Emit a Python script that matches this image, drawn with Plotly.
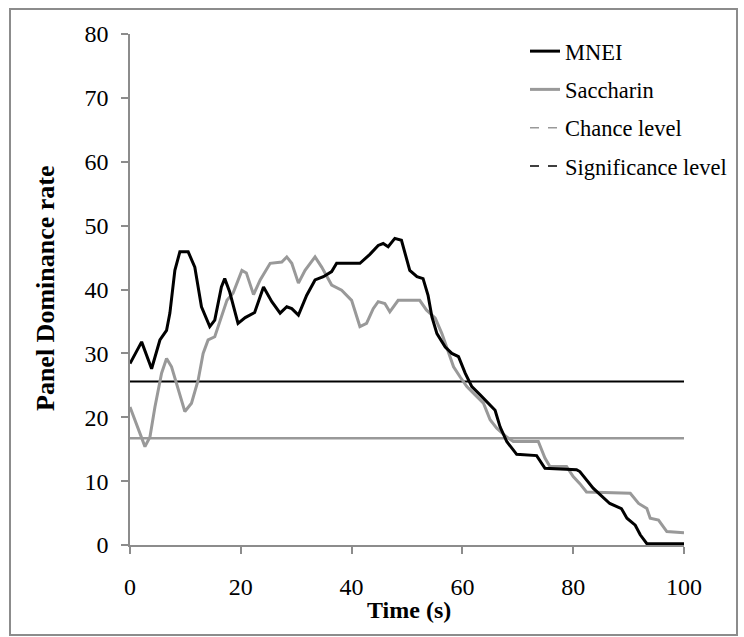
import plotly.graph_objects as go

# ---- data ----
mnei_t = [0, 2.1, 3.9, 5.4, 6.6, 7.2, 8.1, 9.0, 10.5, 11.7, 12.9, 14.4, 15.3, 16.5, 17.1, 18.0,
          19.5, 20.8, 22.5, 24.1, 25.6, 27.1, 28.3, 29.2, 30.4, 31.9, 33.4, 34.9, 36.4, 37.3,
          41.5, 43.3, 44.8, 45.7, 46.6, 47.8, 49.0, 49.9, 50.5, 51.8, 52.9, 53.8, 54.5, 55.4,
          56.9, 58.1, 59.3, 60.5, 61.7, 63.2, 64.7, 65.9, 66.8, 68.0, 69.8, 73.4, 74.9, 80.6,
          81.2, 83.6, 86.6, 88.7, 89.7, 91.2, 92.1, 93.3, 100]
mnei_v = [28.4, 31.8, 27.6, 32.1, 33.6, 36.3, 43.0, 45.9, 45.9, 43.5, 37.3, 34.2, 35.2, 40.4, 41.7, 39.6,
          34.7, 35.6, 36.4, 40.4, 38.1, 36.3, 37.3, 37.0, 36.0, 39.1, 41.5, 42.0, 42.8, 44.1,
          44.1, 45.5, 46.9, 47.2, 46.7, 48.0, 47.7, 45.1, 43.0, 42.0, 41.7, 39.1, 35.7, 33.1,
          31.0, 30.0, 29.5, 26.9, 24.8, 23.5, 22.2, 21.1, 18.5, 16.2, 14.2, 14.0, 12.0, 11.8,
          11.5, 8.9, 6.5, 5.7, 4.2, 3.1, 1.6, 0.2, 0.2]

sacc_t = [0, 1.5, 2.7, 3.6, 4.5, 5.7, 6.6, 7.5, 8.7, 9.9, 11.1, 12.3, 13.2, 14.1, 15.3, 16.5,
          17.5, 18.6, 20.2, 21.0, 22.3, 23.5, 25.3, 27.4, 28.3, 29.2, 30.4, 31.6, 33.4, 34.6,
          36.4, 38.2, 40.0, 41.5, 42.7, 43.9, 44.8, 46.0, 46.9, 48.4, 52.3, 53.5, 55.1, 56.3,
          57.5, 58.4, 59.6, 60.8, 62.3, 63.8, 65.0, 66.2, 68.0, 69.2, 73.7, 74.9, 75.8, 78.8,
          80.0, 81.2, 82.4, 90.3, 91.8, 93.3, 93.9, 95.4, 96.9, 100]
sacc_v = [21.6, 18.0, 15.4, 16.9, 21.6, 26.9, 29.2, 27.9, 24.3, 20.9, 22.2, 25.8, 30.0, 32.1, 32.6, 35.7,
          38.3, 39.4, 43.0, 42.6, 39.2, 41.5, 44.1, 44.3, 45.1, 44.1, 41.0, 43.0, 45.1, 43.5,
          40.7, 39.9, 38.3, 34.2, 34.7, 37.0, 38.1, 37.8, 36.5, 38.3, 38.3, 36.8, 35.5, 33.1,
          30.0, 27.9, 26.3, 24.8, 23.5, 22.2, 19.6, 18.3, 16.9, 16.2, 16.2, 13.6, 12.3, 12.3,
          10.7, 9.6, 8.3, 8.1, 6.5, 5.7, 4.2, 3.9, 2.1, 1.9]

chance_level = 16.7
significance_level = 25.6
x_range = [0, 100]

x_ticks = [0, 20, 40, 60, 80, 100]
y_ticks = [0, 10, 20, 30, 40, 50, 60, 70, 80]

GRAY = "#999999"
AXIS_GRAY = "#8c8c8c"
FONT = "Liberation Serif, Times New Roman, serif"

fig = go.Figure()

# reference lines (solid in plot)
fig.add_trace(go.Scatter(x=x_range, y=[significance_level] * 2, mode="lines",
                         line=dict(color="black", width=2), showlegend=False,
                         legendgroup="sig", hoverinfo="skip"))
fig.add_trace(go.Scatter(x=x_range, y=[chance_level] * 2, mode="lines",
                         line=dict(color=GRAY, width=2.5), showlegend=False,
                         legendgroup="chance", hoverinfo="skip"))

fig.add_trace(go.Scatter(x=sacc_t, y=sacc_v, mode="lines", name="Saccharin",
                         line=dict(color=GRAY, width=3), legendrank=2, legendgroup="sacc"))
fig.add_trace(go.Scatter(x=mnei_t, y=mnei_v, mode="lines", name="MNEI",
                         line=dict(color="black", width=3), legendrank=1, legendgroup="mnei"))

# legend entries (dashed in legend)
fig.add_trace(go.Scatter(x=[None], y=[None], mode="lines", name="Chance level",
                         line=dict(color=GRAY, width=1.5, dash="dash"),
                         legendgroup="chance", legendrank=3))
fig.add_trace(go.Scatter(x=[None], y=[None], mode="lines", name="Significance level",
                         line=dict(color="black", width=1.5, dash="dash"),
                         legendgroup="sig", legendrank=4))

W, H = 744, 637
L, R, T, B = 130, 60, 34, 92
pw, ph = W - L - R, H - T - B

def px_x(px):
    return (px - L) / pw

def px_y(py):
    return (H - B - py) / ph

fig.update_layout(
    width=W, height=H,
    margin=dict(l=L, r=R, t=T, b=B),
    paper_bgcolor="white", plot_bgcolor="white",
    font=dict(family=FONT, size=24, color="black"),
    showlegend=True,
    legend=dict(x=px_x(525), y=px_y(30), xanchor="left", yanchor="top",
                bgcolor="rgba(0,0,0,0)", font=dict(size=22.5, family=FONT),
                traceorder="grouped", tracegroupgap=6),
    xaxis=dict(range=x_range, tickvals=x_ticks, showgrid=False, zeroline=False,
               showline=True, linecolor=AXIS_GRAY, linewidth=1.5,
               ticks="outside", ticklen=7, tickcolor=AXIS_GRAY, tickwidth=1.5,
               ticklabelstandoff=12,
               tickfont=dict(size=24, family=FONT)),
    yaxis=dict(range=[0, 80], tickvals=y_ticks, showgrid=False, zeroline=False,
               showline=True, linecolor=AXIS_GRAY, linewidth=1.5,
               ticks="outside", ticklen=7, tickcolor=AXIS_GRAY, tickwidth=1.5,
               ticklabelstandoff=8,
               tickfont=dict(size=24, family=FONT)),
    annotations=[
        dict(text="<b>Time (s)</b>", xref="paper", yref="paper",
             x=px_x(409), y=px_y(610), xanchor="center", yanchor="middle",
             showarrow=False, font=dict(size=24, family=FONT)),
        dict(text="<b>Panel Dominance rate</b>", xref="paper", yref="paper",
             x=px_x(45), y=px_y(288), xanchor="center", yanchor="middle",
             textangle=-90, showarrow=False, font=dict(size=26, family=FONT)),
    ],
    shapes=[
        dict(type="rect", xref="paper", yref="paper",
             x0=px_x(10), x1=px_x(737), y0=px_y(635), y1=px_y(9),
             line=dict(color=AXIS_GRAY, width=2), fillcolor="rgba(0,0,0,0)", layer="below"),
    ],
)

fig.write_html("out.html")
